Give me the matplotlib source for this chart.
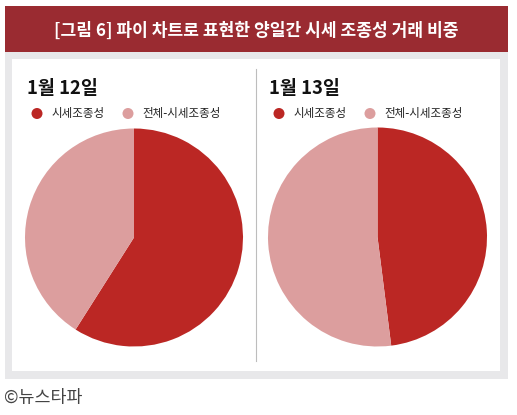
import matplotlib
matplotlib.use("Agg")
import matplotlib.pyplot as plt
from matplotlib.patches import Rectangle, Ellipse

plt.rcParams['font.family'] = ['Noto Sans CJK KR', 'DejaVu Sans']

title = "[그림 6] 파이 차트로 표현한 양일간 시세 조종성 거래 비중"
dates = ["1월 12일", "1월 13일"]
labels = ["시세조종성", "전체-시세조종성"]
manip_share = [59, 48]
rest_share = [41, 52]
colors = ["#bb2724", "#dc9e9e"]
source = "©뉴스타파"

W, H = 517, 415
fig = plt.figure(figsize=(W / 100, H / 100), dpi=100)
fig.patch.set_facecolor("white")

def fx(x):
    return x / W

def fy(y):
    return 1 - y / H

def rect(x0, y0, x1, y1, color):
    fig.patches.append(Rectangle((fx(x0), fy(y1)), fx(x1 - x0), (y1 - y0) / H,
                                 transform=fig.transFigure, facecolor=color,
                                 edgecolor="none", zorder=-5))

# backgrounds
rect(5, 6, 508, 52, "#9a2b31")
rect(5, 52, 508, 379, "#e8e8ea")
rect(12, 59, 500, 371, "white")
fig.lines.append(plt.Line2D([fx(255.5), fx(255.5)], [fy(69), fy(361)],
                            transform=fig.transFigure, color="#bdbdbd", lw=0.8))

fig.text(fx(256.5), fy(31), title, color="white", fontsize=12.3, fontweight="bold",
         ha="center", va="center")
fig.text(fx(4), fy(398), source, color="#444444", fontsize=12.5, ha="left", va="center")

panels = [
    dict(tx=27, cx=134, cy=237.5, r=109, lg=[37, 128]),
    dict(tx=269, cx=377.5, cy=237, r=109.5, lg=[279, 370]),
]

for i, p in enumerate(panels):
    fig.text(fx(p["tx"]), fy(88), dates[i], fontsize=13.3, fontweight="bold",
             ha="left", va="center", color="#111111")
    for j, lx in enumerate(p["lg"]):
        fig.patches.append(Ellipse((fx(lx), fy(113.5)), 11 / W, 11 / H,
                                   transform=fig.transFigure,
                                   facecolor=colors[j], edgecolor="none"))
        fig.text(fx(lx + 14), fy(113.5), labels[j], fontsize=8.3, ha="left",
                 va="center", color="#222222")
    ax = fig.add_axes([fx(p["cx"] - p["r"]), fy(p["cy"] + p["r"]),
                       2 * p["r"] / W, 2 * p["r"] / H])
    ax.set_zorder(5)
    ax.pie([manip_share[i], rest_share[i]], colors=colors, startangle=90,
           counterclock=False, radius=1, wedgeprops=dict(linewidth=0))
    ax.set_xlim(-1, 1)
    ax.set_ylim(-1, 1)
    ax.set_aspect("auto")
    ax.axis("off")

fig.savefig("out.png", dpi=100)
